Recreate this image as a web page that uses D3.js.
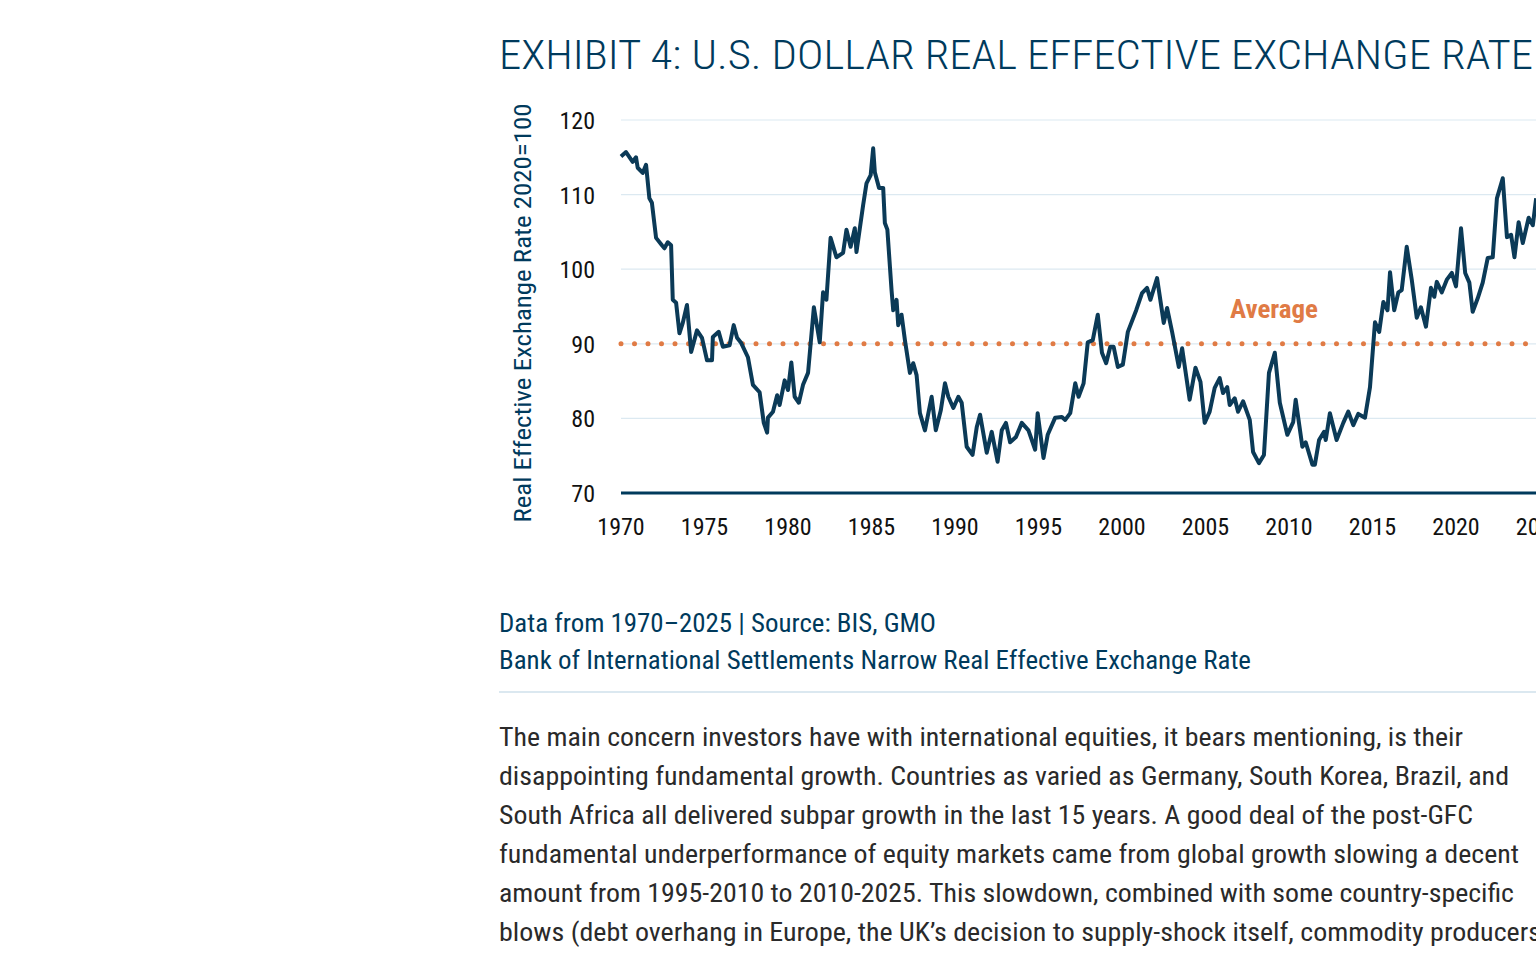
<!DOCTYPE html>
<html>
<head>
<meta charset="utf-8">
<script src="https://cdn.jsdelivr.net/npm/d3@7"></script>
<style>
  html, body { margin: 0; padding: 0; background: #fff; overflow: hidden; }
  text { font-family: "Roboto Condensed", "Liberation Sans Narrow", Roboto, sans-serif; }
</style>
</head>
<body>
<svg id="chart" width="1536" height="961"></svg>
<script>
// Data: [year, index value]
var years = [1970.0,1970.3,1970.7,1970.9,1971.0,1971.3,1971.5,1971.7,1971.85,1972.1,1972.45,1972.6,1972.8,1973.0,1973.1,1973.3,1973.5,1973.7,1973.95,1974.2,1974.55,1974.85,1975.15,1975.45,1975.5,1975.85,1976.1,1976.5,1976.75,1976.95,1977.2,1977.6,1977.9,1978.3,1978.55,1978.75,1978.8,1979.1,1979.35,1979.5,1979.8,1980.0,1980.2,1980.4,1980.65,1980.9,1981.2,1981.55,1981.9,1982.1,1982.3,1982.55,1982.9,1983.3,1983.5,1983.75,1984.0,1984.1,1984.5,1984.7,1984.95,1985.1,1985.2,1985.45,1985.7,1985.8,1985.95,1986.2,1986.3,1986.5,1986.6,1986.8,1987.0,1987.3,1987.5,1987.7,1987.9,1988.2,1988.6,1988.85,1989.15,1989.4,1989.6,1989.9,1990.2,1990.4,1990.7,1991.05,1991.3,1991.5,1991.9,1992.2,1992.55,1992.8,1993.05,1993.3,1993.65,1994.0,1994.4,1994.8,1994.95,1995.3,1995.55,1996.0,1996.4,1996.6,1996.9,1997.2,1997.4,1997.7,1997.95,1998.25,1998.55,1998.8,1999.05,1999.3,1999.5,1999.75,2000.05,2000.35,2000.85,2001.2,2001.5,2001.7,2002.1,2002.5,2002.7,2003.0,2003.4,2003.6,2004.05,2004.4,2004.7,2004.95,2005.25,2005.55,2005.85,2006.05,2006.3,2006.45,2006.75,2006.95,2007.25,2007.65,2007.85,2008.2,2008.5,2008.8,2009.15,2009.45,2009.9,2010.25,2010.4,2010.8,2011.0,2011.4,2011.55,2011.8,2012.1,2012.2,2012.45,2012.85,2013.25,2013.55,2013.85,2014.15,2014.55,2014.85,2015.15,2015.4,2015.65,2015.9,2016.05,2016.3,2016.55,2016.75,2017.05,2017.35,2017.65,2017.9,2018.2,2018.5,2018.7,2018.85,2019.15,2019.45,2019.75,2020.0,2020.3,2020.55,2020.8,2021.0,2021.3,2021.6,2021.9,2022.2,2022.45,2022.8,2023.05,2023.3,2023.5,2023.75,2024.0,2024.35,2024.6,2024.8];
var reer = [115.1,115.7,114.4,115,113.6,112.9,114,109.5,108.9,104.2,103.2,102.8,103.6,103.2,95.9,95.5,91.4,92.8,95.2,88.9,91.8,90.8,87.8,87.8,90.9,91.6,89.6,89.8,92.5,90.8,90.1,88.2,84.5,83.5,79.4,78.1,80.1,80.9,83.1,81.8,85.1,83.8,87.5,82.9,82.1,84.5,86.1,94.9,90.2,96.9,95.9,104.2,101.6,102.2,105.3,103,105.5,102.3,108.6,111.5,112.6,116.2,113,110.9,110.9,106.2,105.3,97.2,94.5,95.9,92.5,93.9,90.5,86.1,87.4,85.8,80.7,78.4,82.9,78.4,81.1,84.7,82.9,81.4,82.9,82.1,76.2,75.1,78.8,80.5,75.4,78.2,74.2,78.4,79.4,76.8,77.5,79.4,78.4,75.8,80.7,74.7,77.8,80.1,80.2,79.8,80.7,84.7,82.9,84.7,90.2,90.5,93.9,88.8,87.4,89.6,89.6,86.9,87.2,91.6,94.5,96.8,97.5,95.9,98.8,92.8,94.8,91.6,86.9,89.4,82.5,86.8,84.9,79.4,80.9,84.1,85.4,83.4,84.2,81.8,82.7,80.9,82.3,79.8,75.5,74,75.1,86.1,88.8,82.1,77.8,79.5,82.5,76.2,76.8,73.8,73.8,77.1,78.2,77.1,80.7,77.1,79.4,80.9,79.1,80.6,80.1,84.2,92.9,91.6,95.6,94.5,99.6,94.5,96.9,97.2,103,98.6,93.5,94.9,92.3,97.5,96.3,98.3,96.9,98.6,99.5,97.7,105.5,99.5,98.2,94.3,96.1,98.2,101.5,101.6,109.5,112.2,104.3,104.6,101.6,106.3,103.5,106.9,105.9,109.5];
var average = 90;
var yTicks = [70, 80, 90, 100, 110, 120];
var xTicks = [1970, 1975, 1980, 1985, 1990, 1995, 2000, 2005, 2010, 2015, 2020, 2025];
var sourceLines = ["Data from 1970\u20132025 | Source: BIS, GMO",
                   "Bank of International Settlements Narrow Real Effective Exchange Rate"];
var bodyLines = [
  "The main concern investors have with international equities, it bears mentioning, is their",
  "disappointing fundamental growth. Countries as varied as Germany, South Korea, Brazil, and",
  "South Africa all delivered subpar growth in the last 15 years. A good deal of the post-GFC",
  "fundamental underperformance of equity markets came from global growth slowing a decent",
  "amount from 1995-2010 to 2010-2025. This slowdown, combined with some country-specific",
  "blows (debt overhang in Europe, the UK\u2019s decision to supply-shock itself, commodity producers"
];
var bodyWidths = [964, 1010, 974, 1020, 1015, 1042];

var navy = "#003a5c";
var svg = d3.select("#chart");

// title
svg.append("text")
    .attr("x", 499).attr("y", 69)
    .attr("font-size", 40).attr("font-weight", 300)
    .attr("fill", navy)
    .attr("textLength", 1034).attr("lengthAdjust", "spacingAndGlyphs")
    .text("EXHIBIT 4: U.S. DOLLAR REAL EFFECTIVE EXCHANGE RATE");

var x = d3.scaleLinear().domain([1970, 2025]).range([621, 621 + 55 * 16.7]);
var y = d3.scaleLinear().domain([70, 120]).range([493, 120]);

// gridlines
svg.append("g").selectAll("line")
    .data(yTicks.filter(d => d > 70))
    .enter().append("line")
    .attr("x1", 621).attr("x2", 1560)
    .attr("y1", d => y(d)).attr("y2", d => y(d))
    .attr("stroke", "#dce9f1").attr("stroke-width", 1.2);

// y tick labels
svg.append("g").selectAll("text")
    .data(yTicks).enter().append("text")
    .attr("x", 595).attr("y", d => y(d) + 9)
    .attr("text-anchor", "end").attr("font-size", 24).attr("fill", "#111")
    .text(d => d);

// x tick labels
svg.append("g").selectAll("text")
    .data(xTicks).enter().append("text")
    .attr("x", d => x(d)).attr("y", 535)
    .attr("text-anchor", "middle").attr("font-size", 24).attr("fill", "#111")
    .text(d => d);

// y axis title
svg.append("text")
    .attr("transform", "translate(531,313) rotate(-90)")
    .attr("text-anchor", "middle").attr("font-size", 24).attr("fill", navy)
    .attr("textLength", 419).attr("lengthAdjust", "spacingAndGlyphs")
    .text("Real Effective Exchange Rate 2020=100");

// average dotted line
svg.append("line")
    .attr("x1", 621).attr("x2", 1560)
    .attr("y1", y(average)).attr("y2", y(average))
    .attr("stroke", "#e07b45").attr("stroke-width", 5)
    .attr("stroke-linecap", "round").attr("stroke-dasharray", "0 13.5");

svg.append("text")
    .attr("x", 1274).attr("y", 318)
    .attr("text-anchor", "middle").attr("font-size", 25).attr("font-weight", 700)
    .attr("fill", "#e07b45")
    .attr("textLength", 88).attr("lengthAdjust", "spacingAndGlyphs")
    .text("Average");

// baseline
svg.append("line")
    .attr("x1", 621).attr("x2", 1560)
    .attr("y1", y(70)).attr("y2", y(70))
    .attr("stroke", navy).attr("stroke-width", 3);

// the series
var pts = years.map((d, i) => [d, reer[i]]);
svg.append("path")
    .datum(pts)
    .attr("fill", "none")
    .attr("stroke", "#0b3a57").attr("stroke-width", 4)
    .attr("stroke-linejoin", "round")
    .attr("d", d3.line().x(d => x(d[0])).y(d => y(d[1])));

// source
svg.append("g").selectAll("text")
    .data(sourceLines).enter().append("text")
    .attr("x", 499).attr("y", (d, i) => 632 + i * 37)
    .attr("font-size", 25).attr("fill", navy)
    .attr("textLength", (d, i) => [437, 752][i]).attr("lengthAdjust", "spacingAndGlyphs")
    .text(d => d);

svg.append("line")
    .attr("x1", 499).attr("x2", 1560).attr("y1", 692).attr("y2", 692)
    .attr("stroke", "#cfe0eb").attr("stroke-width", 1.5);

// body copy
svg.append("g").selectAll("text")
    .data(bodyLines).enter().append("text")
    .attr("x", 499).attr("y", (d, i) => 746 + i * 39)
    .attr("font-size", 25).attr("fill", "#2a2a2a")
    .attr("textLength", (d, i) => bodyWidths[i]).attr("lengthAdjust", "spacingAndGlyphs")
    .text(d => d);
</script>
</body>
</html>
